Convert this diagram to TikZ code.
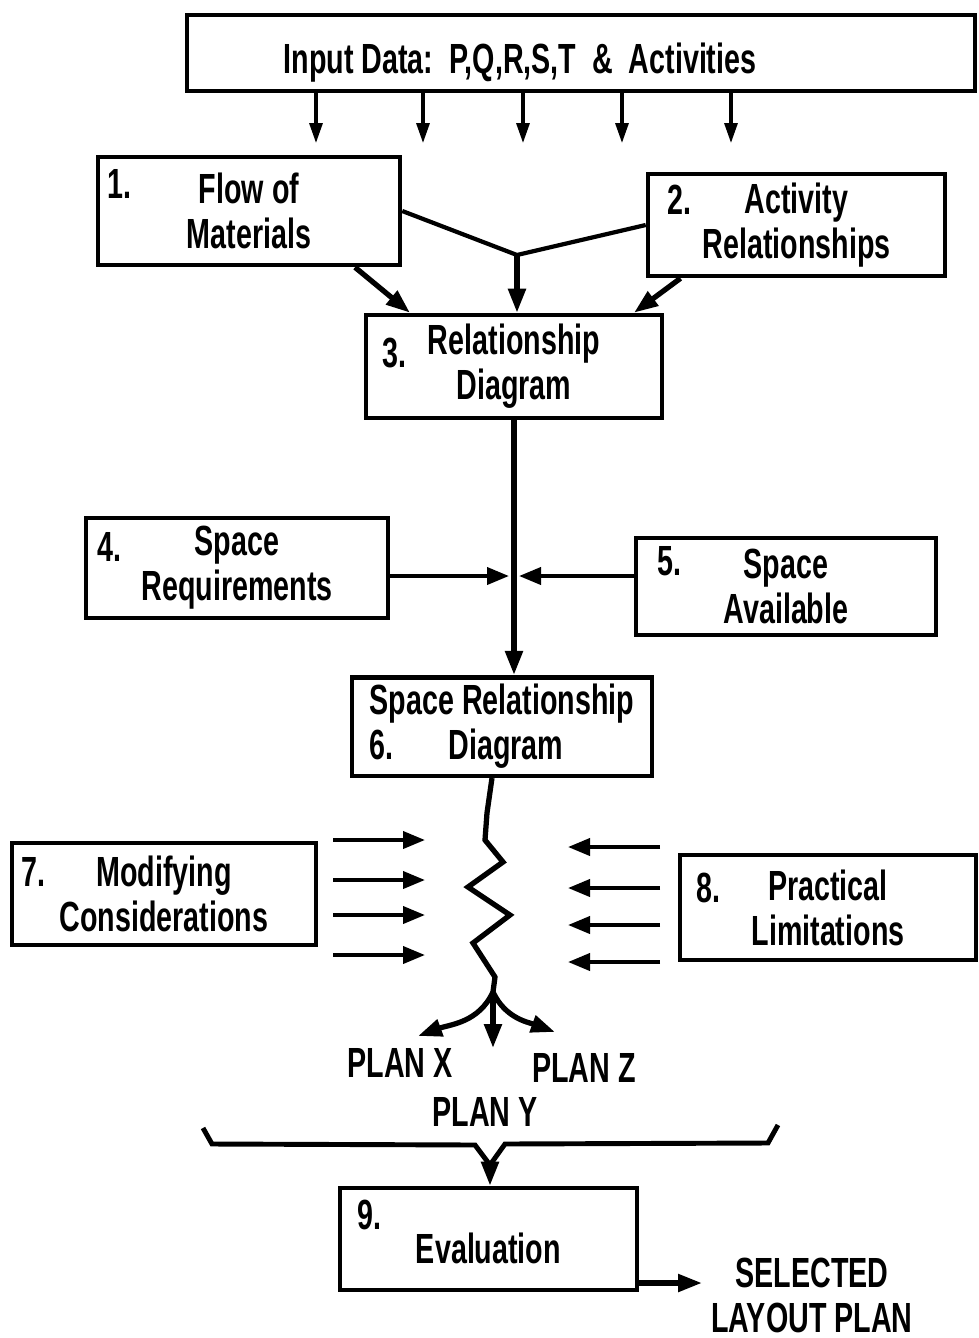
\documentclass[tikz,border=0pt]{standalone}
\usepackage{fontspec}
\setmainfont[FakeStretch=0.68]{Liberation Sans}
\usetikzlibrary{arrows.meta,calc}
\definecolor{ink}{RGB}{0,0,0}
\tikzset{
  every picture/.style={color=ink, line width=1.2pt, font=\fontsize{12}{12.8}\selectfont\bfseries},
  box/.style={draw=ink, line width=1.3pt, minimum width=30mm, minimum height=10.2mm, inner sep=2pt, align=center},
  num/.style={anchor=north west, inner sep=0pt},
  flow/.style={-{Triangle[length=2.4mm,width=1.7mm]}, line width=1.5pt},
  feed/.style={-{Triangle[length=2mm,width=1.3mm]}, line width=0.9pt},
  side/.style={-{Triangle[length=2.2mm,width=1.7mm]}, line width=1.1pt},
  lbl/.style={inner sep=0pt, align=center},
}

\begin{document}
\begin{tikzpicture}
  \useasboundingbox (0,0) rectangle (97.9mm,-133.8mm);
  % input data
  \node[box, minimum width=78.8mm, minimum height=7.6mm] (inp) at (58.1mm,-5.3mm) {};
  \node[lbl] (inptext) at (52mm,-6.3mm) {Input Data:\ \ P,Q,R,S,T\ \ \&\ \ Activities};
  \foreach \x [count=\i] in {31.6,42.3,52.3,62.2,73.1}
    \coordinate (in\i) at (\x mm,-14.3mm);
  \foreach \i in {1,...,5}
    \draw[feed] (inp.south -| in\i) -- (in\i);

  % 1, 2 -> 3
  \node[box, minimum width=30.2mm, minimum height=10.8mm] (flow) at (24.9mm,-21.1mm) {Flow of\\Materials};
  \node[num] (n1) at ([shift={(1mm,-1.3mm)}]flow.north west) {1.};
  \node[box, minimum width=29.7mm] (act) at (79.65mm,-22.5mm) {Activity\\Relationships};
  \node[num] (n2) at ([shift={(2mm,-1.1mm)}]act.north west) {2.};
  \node[box, minimum width=29.6mm, minimum height=10.3mm] (rel) at (51.4mm,-36.65mm) {Relationship\\Diagram};
  \node[num] (n3) at ([shift={(1.7mm,-2.3mm)}]rel.north west) {3.};
  \coordinate (meet) at (51.7mm,-25.5mm);
  \draw (flow.east) -- (meet) -- (act.west);
  \draw[flow] (meet) -- (meet |- rel.north);
  \draw[flow] ([xshift=10.6mm]flow.south) -- ([xshift=-10.4mm]rel.north);
  \draw[flow] ([xshift=-11.6mm]act.south) -- ([xshift=12mm]rel.north);

  % 4, 5 -> 6
  \node[box, minimum width=30.2mm, minimum height=10mm] (req) at (23.7mm,-56.8mm) {Space\\Requirements};
  \node[num] (n4) at ([shift={(1.2mm,-1.5mm)}]req.north west) {4.};
  \node[box, minimum height=9.7mm] (avl) at (78.6mm,-58.65mm) {Space\\Available};
  \node[num] (n5) at ([shift={(2.2mm,-0.9mm)}]avl.north west) {5.};
  \node[box, minimum height=9.7mm, align=left] (srd) at (50.2mm,-72.65mm) {Space Relationship\\6.\hspace{5.5mm}Diagram};
  \draw[flow] (rel.south) -- (rel.south |- srd.north);
  \coordinate (cross) at (rel.south |- 0,-57.6mm);
  \draw[side] (req.east |- cross) -- ([xshift=-0.5mm]cross);
  \draw[side] (avl.west |- cross) -- ([xshift=0.5mm]cross);

  % 7, 8 squeeze the plans
  \node[box, minimum width=30.4mm] (mod) at (16.4mm,-89.4mm) {Modifying\\Considerations};
  \node[num] (n7) at ([shift={(1mm,-1.5mm)}]mod.north west) {7.};
  \node[box, minimum width=29.6mm, minimum height=10.5mm] (lim) at (82.8mm,-90.75mm) {Practical\\Limitations};
  \node[num] (n8) at ([shift={(1.7mm,-1.8mm)}]lim.north west) {8.};
  \foreach \y [count=\i] in {84.0,88.0,91.5,95.5} {
    \coordinate (ml\i) at (33.3mm,-\y mm);
    \draw[side] (ml\i) -- +(9.2mm,0);
  }
  \foreach \y [count=\i] in {84.7,88.8,92.5,96.2} {
    \coordinate (mr\i) at (66mm,-\y mm);
    \draw[side] (mr\i) -- +(-9.2mm,0);
  }
  \coordinate (split) at (49.3mm,-99.2mm);
  \draw[line width=1.5pt] ([xshift=-1mm]srd.south) -- (48.7mm,-81.3mm) -- (48.5mm,-84mm)
    -- (50.3mm,-86.2mm) -- (46.8mm,-88.7mm) -- (51mm,-91.5mm) -- (47.3mm,-94.3mm)
    -- (49.5mm,-97.7mm) -- (split);

  % plans
  \coordinate (px) at (41.8mm,-103.6mm);
  \coordinate (py) at (49.1mm,-104.8mm);
  \coordinate (pz) at (55.5mm,-103.2mm);
  \draw[flow] (split) to[out=-115, in=20] (px);
  \draw[flow] (split) -- (split |- py);
  \draw[flow] (split) to[out=-65, in=160] (pz);
  \node[lbl] (planx) at (40mm,-106.3mm) {PLAN X};
  \node[lbl] (planz) at (58.4mm,-106.8mm) {PLAN Z};
  \node[lbl] (plany) at (48.5mm,-111.2mm) {PLAN Y};

  % evaluation
  \node[box, minimum width=29.7mm] (eval) at (48.85mm,-123.9mm) {\rule{0pt}{5mm}Evaluation};
  \node[num] (n9) at ([shift={(1.8mm,-1.2mm)}]eval.north west) {9.};
  \coordinate (bl) at (20.3mm,-112.8mm);
  \coordinate (br) at (77.8mm,-112.5mm);
  \coordinate (vee) at (49mm,-116.5mm);
  \draw[line width=1.4pt] (bl) -- (21.2mm,-114.4mm) -- (47.5mm,-114.5mm) -- (vee)
    -- (50.5mm,-114.4mm) -- (76.8mm,-114.3mm) -- (br);
  \draw[flow] (vee) -- (vee |- eval.north);
  \coordinate (out) at (70.2mm,-128.3mm);
  \draw[flow] (eval.south east |- out) -- (out);
  \node[lbl] (sel) at (81.2mm,-129.5mm) {SELECTED\\LAYOUT PLAN};
\end{tikzpicture}
\end{document}
